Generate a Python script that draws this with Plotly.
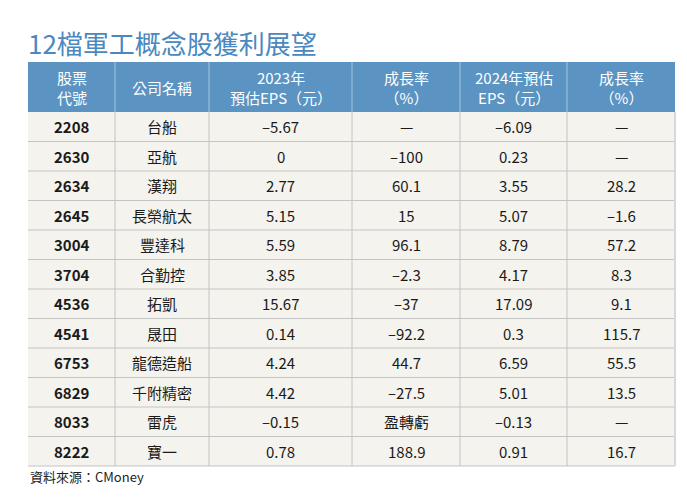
import plotly.graph_objects as go

codes = ["2208","2630","2634","2645","3004","3704","4536","4541","6753","6829","8033","8222"]
names = ["台船","亞航","漢翔","長榮航太","豐達科","合勤控","拓凱","晟田","龍德造船","千附精密","雷虎","寶一"]
eps2023 = ["–5.67","0","2.77","5.15","5.59","3.85","15.67","0.14","4.24","4.42","–0.15","0.78"]
growth2023 = ["—","–100","60.1","15","96.1","–2.3","–37","–92.2","44.7","–27.5","盈轉虧","188.9"]
eps2024 = ["–6.09","0.23","3.55","5.07","8.79","4.17","17.09","0.3","6.59","5.01","–0.13","0.91"]
growth2024 = ["—","—","28.2","–1.6","57.2","8.3","9.1","115.7","55.5","13.5","—","16.7"]
headers = ["股票<br>代號","公司名稱","2023年<br>預估EPS（元）","成長率<br>（%）","2024年預估<br>EPS（元）","成長率<br>（%）"]

W, H = 687, 499
font = "Noto Sans CJK TC"
colx = [20, 107, 201, 344, 452, 559, 667]
top, head_h, row_h = 54, 50, 29.5
cols = [codes, names, eps2023, growth2023, eps2024, growth2024]
n = len(codes)
bottom = top + head_h + n * row_h

shapes = [
    dict(type="rect", x0=colx[0], x1=colx[-1], y0=top, y1=top + head_h, fillcolor="#5b93c2", line_width=0, layer="below"),
    dict(type="rect", x0=colx[0], x1=colx[-1], y0=top + head_h, y1=bottom, fillcolor="#f5f3ee", line_width=0, layer="below"),
]
for i in range(1, n + 1):
    y = top + head_h + i * row_h
    shapes.append(dict(type="line", x0=colx[0], x1=colx[-1], y0=y, y1=y, line=dict(color="#c4c4c4", width=1)))
for j, x in enumerate(colx[1:-1]):
    shapes.append(dict(type="line", x0=x, x1=x, y0=top, y1=top + head_h, line=dict(color="#a9c4de", width=1)))
    shapes.append(dict(type="line", x0=x, x1=x, y0=top + head_h, y1=bottom, line=dict(color="#c4c4c4", width=1)))
shapes.append(dict(type="line", x0=colx[-1], x1=colx[-1], y0=top + head_h, y1=bottom, line=dict(color="#d8d8d8", width=2)))

ann = []
for j, h in enumerate(headers):
    cx = (colx[j] + colx[j + 1]) / 2
    ann.append(dict(x=cx, y=top + head_h / 2, text=h, font=dict(size=15, color="white", family=font)))
for j, col in enumerate(cols):
    cx = (colx[j] + colx[j + 1]) / 2
    for i, v in enumerate(col):
        cy = top + head_h + (i + 0.5) * row_h
        ann.append(dict(x=cx, y=cy, text=("<b>%s</b>" % v) if j == 0 else v,
                        font=dict(size=15, color="#1a1a1a", family=font)))
for a in ann:
    a.update(xref="x", yref="y", showarrow=False, xanchor="center", yanchor="middle")
ann.append(dict(text="12檔軍工概念股獲利展望", x=18, y=34, xref="x", yref="y", xanchor="left", yanchor="middle",
                showarrow=False, font=dict(size=26, color="#4a88bf", family=font)))
ann.append(dict(text="資料來源：CMoney", x=20, y=468, xref="x", yref="y", xanchor="left", yanchor="middle",
                showarrow=False, font=dict(size=13, color="#222", family=font)))

fig = go.Figure()
fig.update_layout(
    width=W, height=H, margin=dict(l=0, r=0, t=0, b=0), paper_bgcolor="white", plot_bgcolor="white",
    xaxis=dict(range=[0, W], visible=False, fixedrange=True),
    yaxis=dict(range=[H, 0], visible=False, fixedrange=True),
    shapes=shapes, annotations=ann, showlegend=False,
)
fig.write_html("out.html")
